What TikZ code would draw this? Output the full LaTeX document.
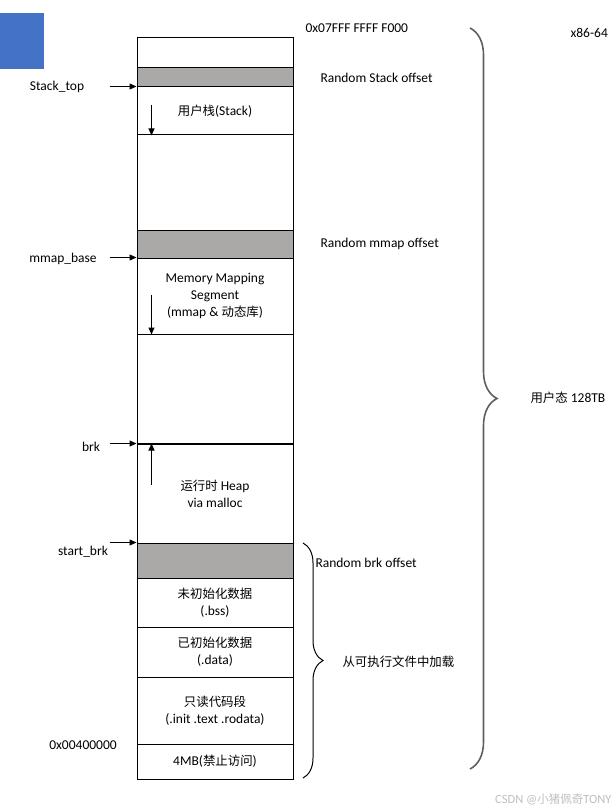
\documentclass[tikz,border=0pt]{standalone}
\usepackage{fontspec}
\setmainfont{Carlito}
\newfontfamily\cjk[Scale=0.92]{Noto Sans CJK SC}
\usepackage{tikz}
\usetikzlibrary{arrows.meta,decorations.pathreplacing}
\definecolor{SegGray}{RGB}{171,168,168}
\definecolor{CornerBlue}{RGB}{68,114,196}
\definecolor{BraceGray}{RGB}{95,95,95}

\begin{document}
\begin{tikzpicture}[x=1pt,y=-1pt,line width=1pt,
  font=\fontsize{13.5}{17}\selectfont,
  seg/.style={draw,minimum width=156pt,inner sep=0pt,align=center},
  band/.style={seg,fill=SegGray},
  lbl/.style={inner sep=0pt},
  ptr/.style={-{Triangle[length=7pt,width=6pt]}},
  growarrow/.style={-{Triangle[length=7pt,width=6pt]}}]
\useasboundingbox (0,0) rectangle (615,810);
\fill[CornerBlue] (0,13) rectangle (44,69);
% the address space column, top to bottom
\foreach \n/\t/\b/\1 in %
{s0/38/68/{},s1/87/135/{{\cjk 用户栈}(Stack)},s2/135/230/{},
 s3/258/334/{Memory Mapping\\Segment\\(mmap \& {\cjk 动态库})},s4/334/444/{},
 s5/444/543/{{\cjk 运行时} Heap\\via malloc},
 s6/578/627/{{\cjk 未初始化数据}\\(.bss)},s7/627/677/{{\cjk 已初始化数据}\\(.data)},
 s8/677/744/{{\cjk 只读代码段}\\(.init .text .rodata)},s9/744/779/{4MB({\cjk 禁止访问})}} {
   \pgfmathsetmacro{\h}{\b-\t}
   \node[seg,minimum height=\h pt] (\n) at (215,{(\t+\b)/2}) {\1};
}
\foreach \n/\t/\b in {g1/68/87,g2/230/258,g3/543/578} {
   \pgfmathsetmacro{\h}{\b-\t}
   \node[band,minimum height=\h pt] (\n) at (215,{(\t+\b)/2}) {};
}
\draw[line width=2pt] (s5.north west) -- (s5.north east);
% growth directions
\draw[growarrow] ([xshift=15pt,yshift=30pt]s1.south west) -- ([xshift=15pt]s1.south west);
\draw[growarrow] ([xshift=15pt,yshift=40pt]s3.south west) -- ([xshift=15pt]s3.south west);
\draw[growarrow] ([xshift=15pt,yshift=-41pt]s5.north west) -- ([xshift=15pt]s5.north west);
% left side pointers
\node[lbl] (stacktop) at (57,87) {Stack\_top};
\node[lbl] (mmapbase) at (63,259) {mmap\_base};
\node[lbl] (brk) at (91,447) {brk};
\node[lbl] (startbrk) at (83,552) {start\_brk};
\node[lbl] (lowaddr) at (83,745) {0x00400000};
\foreach \s in {s1,s3,s5,g3} {
   \draw[ptr] ([xshift=-27pt]\s.north west) -- (\s.north west);
}
% right side
\node[lbl,anchor=west] (highaddr) at (305,28) {0x07FFF FFFF F000};
\node[lbl,anchor=west] (arch) at (570,33) {x86-64};
\node[lbl,anchor=west] (rstack) at (320,78) {Random Stack offset};
\node[lbl,anchor=west] (rmmap) at (320,244) {Random mmap offset};
\node[lbl,anchor=west] (rbrk) at (315,563) {Random brk offset};
\node[lbl,anchor=west] (loaded) at (342,662) {\cjk 从可执行文件中加载};
\node[lbl,anchor=west] (user) at (530,398) {{\cjk 用户态} 128TB};
\draw[BraceGray,line width=1.6pt,decorate,decoration={brace,amplitude=27pt}] (470,28) -- (470,769);
\draw[decorate,decoration={brace,amplitude=20pt}] (303,543) -- (303,778);
\node[lbl,anchor=east,text=black!25,font=\fontsize{12.5}{14}\selectfont] (mark) at (612,799) {CSDN @{\cjk 小猪佩奇}TONY};
\end{tikzpicture}
\end{document}
